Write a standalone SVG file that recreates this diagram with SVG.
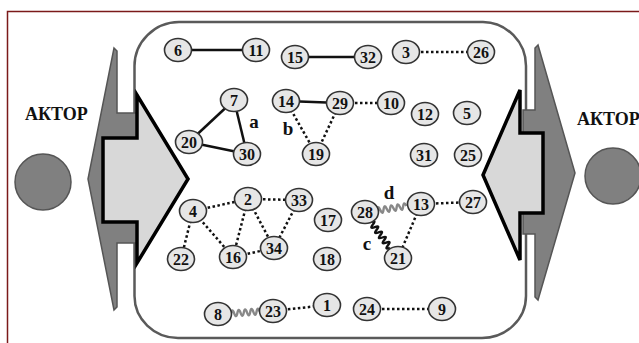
<svg xmlns="http://www.w3.org/2000/svg" width="639" height="343" viewBox="0 0 639 343">
  <style>
    .node ellipse { fill: #e6e6e6; stroke: #333; stroke-width: 1.6; }
    .node text { font-family: "Liberation Serif", "DejaVu Serif", "Times New Roman", serif; font-weight: bold; font-size: 16px; fill: #111; text-anchor: middle; }
    .solid { stroke: #111; stroke-width: 2.5; fill: none; }
    .dot { stroke: #111; stroke-width: 2.5; stroke-dasharray: 2.5 2.5; fill: none; }
    .wave-gray { stroke: #888; stroke-width: 2.4; fill: none; }
    .wave-black { stroke: #111; stroke-width: 2.4; fill: none; }
    .tag { font-family: "Liberation Serif", "DejaVu Serif", "Times New Roman", serif; font-weight: bold; font-size: 19px; fill: #111; text-anchor: middle; }
    .actor-label { font-family: "Liberation Serif", "DejaVu Serif", "Times New Roman", serif; font-weight: bold; font-size: 18px; fill: #111; }
    .actor { fill: #808080; stroke: #555; stroke-width: 1.5; }
    .spike { fill: #808080; stroke: #555; stroke-width: 1.5; stroke-linejoin: miter; }
    .flow { fill: #d8d8d8; stroke: #000; stroke-width: 3.5; stroke-linejoin: miter; }
  </style>

  <rect width="639" height="343" fill="#fff"/>
  <!-- page frame -->
  <path d="M7.5,343 V11.5 H639" fill="none" stroke="#7b1a1a" stroke-width="1.5"/>

  <!-- system boundary -->
  <path id="system" d="M179,22 H483 A44 44 0 0 1 526,66 V296 A44 42 0 0 1 482,338 H178 A44 42 0 0 1 134.5,296 V66 A45 44 0 0 1 179,22 Z" fill="none" stroke="#5a5a5a" stroke-width="2.5"/>

  <!-- left actor -->
  <g id="actor-left">
    <circle class="actor" cx="43" cy="182" r="28"/>
    <text class="actor-label" x="25" y="120">АКТОР</text>
    <polygon class="spike" points="114,48 117,51 117,113 137,113 137,243 117,243 117,307 114,310 88,179"/>
    <polygon class="flow" points="137,95 137,138 103,138 103,222 137,222 137,263 188,179"/>
  </g>

  <!-- right actor -->
  <g id="actor-right">
    <circle class="actor" cx="613" cy="176" r="28"/>
    <text class="actor-label" x="577" y="125">АКТОР</text>
    <polygon class="spike" points="538,45 535,48 535,110 523,110 523,234 535,234 535,297 538,300 575,173"/>
    <polygon class="flow" points="520,90 520,133 543,133 543,213 520,213 520,260 483,175"/>
  </g>

  <!-- connectors -->
  <g id="connectors">
    <line class="solid" x1="178" y1="50" x2="256" y2="50"/>
    <line class="solid" x1="295" y1="57" x2="368" y2="57"/>
    <line class="dot" x1="406" y1="52" x2="481" y2="52"/>
    <line class="solid" x1="234" y1="100" x2="189" y2="142"/>
    <line class="solid" x1="189" y1="142" x2="247" y2="154"/>
    <line class="solid" x1="234" y1="100" x2="247" y2="154"/>
    <line class="solid" x1="286" y1="101" x2="340" y2="103"/>
    <line class="dot" x1="340" y1="103" x2="391" y2="103"/>
    <line class="dot" x1="286" y1="101" x2="316" y2="154"/>
    <line class="dot" x1="340" y1="103" x2="316" y2="154"/>
    <line class="dot" x1="193" y1="211" x2="248" y2="199"/>
    <line class="dot" x1="248" y1="199" x2="299" y2="200"/>
    <line class="dot" x1="193" y1="211" x2="181" y2="259"/>
    <line class="dot" x1="193" y1="211" x2="233" y2="257"/>
    <line class="dot" x1="248" y1="199" x2="233" y2="257"/>
    <line class="dot" x1="248" y1="199" x2="274" y2="248"/>
    <line class="dot" x1="299" y1="200" x2="274" y2="248"/>
    <line class="dot" x1="233" y1="257" x2="274" y2="248"/>
    <line class="dot" x1="421" y1="204" x2="473" y2="202"/>
    <line class="dot" x1="421" y1="204" x2="398" y2="258"/>
    <line class="dot" x1="273" y1="311" x2="327" y2="305"/>
    <line class="dot" x1="367" y1="309" x2="442" y2="309"/>
    <!-- wavy links -->
    <path class="wave-gray" transform="translate(231,313.5) rotate(-4)" d="M0,0 q1.6,-6 3.2,0 t3.2,0 t3.2,0 t3.2,0 t3.2,0 t3.2,0 t3.2,0 t3.2,0 t3.2,0"/>
    <path class="wave-gray" transform="translate(377,210.5) rotate(-8.5)" d="M0,0 q1.65,-6 3.3,0 t3.3,0 t3.3,0 t3.3,0 t3.3,0 t3.3,0 t3.3,0 t3.3,0 t3.3,0"/>
    <path class="wave-black" transform="translate(371,222) rotate(53.8)" d="M0,0 q1.6,-6 3.2,0 t3.2,0 t3.2,0 t3.2,0 t3.2,0 t3.2,0 t3.2,0 t3.2,0 t3.2,0 t3.2,0"/>
  </g>

  <!-- link tags -->
  <text class="tag" x="254" y="128">a</text>
  <text class="tag" x="288" y="135">b</text>
  <text class="tag" x="367" y="250">c</text>
  <text class="tag" x="389" y="199">d</text>

  <!-- nodes -->
  <g id="n6" class="node"><ellipse cx="178" cy="50" rx="13.5" ry="11.5"/><text x="178" y="55.5">6</text></g>
  <g id="n11" class="node"><ellipse cx="256" cy="50" rx="13.5" ry="11.5"/><text x="256" y="55.5">11</text></g>
  <g id="n15" class="node"><ellipse cx="295" cy="57" rx="13.5" ry="11.5"/><text x="295" y="62.5">15</text></g>
  <g id="n32" class="node"><ellipse cx="368" cy="57" rx="13.5" ry="11.5"/><text x="368" y="62.5">32</text></g>
  <g id="n3" class="node"><ellipse cx="406" cy="52" rx="13.5" ry="11.5"/><text x="406" y="57.5">3</text></g>
  <g id="n26" class="node"><ellipse cx="481" cy="52" rx="13.5" ry="11.5"/><text x="481" y="57.5">26</text></g>
  <g id="n7" class="node"><ellipse cx="234" cy="100" rx="13.5" ry="11.5"/><text x="234" y="105.5">7</text></g>
  <g id="n20" class="node"><ellipse cx="189" cy="142" rx="13.5" ry="11.5"/><text x="189" y="147.5">20</text></g>
  <g id="n30" class="node"><ellipse cx="247" cy="154" rx="13.5" ry="11.5"/><text x="247" y="159.5">30</text></g>
  <g id="n14" class="node"><ellipse cx="286" cy="101" rx="13.5" ry="11.5"/><text x="286" y="106.5">14</text></g>
  <g id="n29" class="node"><ellipse cx="340" cy="103" rx="13.5" ry="11.5"/><text x="340" y="108.5">29</text></g>
  <g id="n10" class="node"><ellipse cx="391" cy="103" rx="13.5" ry="11.5"/><text x="391" y="108.5">10</text></g>
  <g id="n19" class="node"><ellipse cx="316" cy="154" rx="13.5" ry="11.5"/><text x="316" y="159.5">19</text></g>
  <g id="n12" class="node"><ellipse cx="425" cy="114" rx="13.5" ry="11.5"/><text x="425" y="119.5">12</text></g>
  <g id="n5" class="node"><ellipse cx="467" cy="113" rx="13.5" ry="11.5"/><text x="467" y="118.5">5</text></g>
  <g id="n31" class="node"><ellipse cx="424" cy="155" rx="13.5" ry="11.5"/><text x="424" y="160.5">31</text></g>
  <g id="n25" class="node"><ellipse cx="468" cy="155" rx="13.5" ry="11.5"/><text x="468" y="160.5">25</text></g>
  <g id="n4" class="node"><ellipse cx="193" cy="211" rx="13.5" ry="11.5"/><text x="193" y="216.5">4</text></g>
  <g id="n2" class="node"><ellipse cx="248" cy="199" rx="13.5" ry="11.5"/><text x="248" y="204.5">2</text></g>
  <g id="n33" class="node"><ellipse cx="299" cy="200" rx="13.5" ry="11.5"/><text x="299" y="205.5">33</text></g>
  <g id="n22" class="node"><ellipse cx="181" cy="259" rx="13.5" ry="11.5"/><text x="181" y="264.5">22</text></g>
  <g id="n16" class="node"><ellipse cx="233" cy="257" rx="13.5" ry="11.5"/><text x="233" y="262.5">16</text></g>
  <g id="n34" class="node"><ellipse cx="274" cy="248" rx="13.5" ry="11.5"/><text x="274" y="253.5">34</text></g>
  <g id="n17" class="node"><ellipse cx="328" cy="220" rx="13.5" ry="11.5"/><text x="328" y="225.5">17</text></g>
  <g id="n18" class="node"><ellipse cx="327" cy="259" rx="13.5" ry="11.5"/><text x="327" y="264.5">18</text></g>
  <g id="n28" class="node"><ellipse cx="365" cy="212" rx="13.5" ry="11.5"/><text x="365" y="217.5">28</text></g>
  <g id="n13" class="node"><ellipse cx="421" cy="204" rx="13.5" ry="11.5"/><text x="421" y="209.5">13</text></g>
  <g id="n27" class="node"><ellipse cx="473" cy="202" rx="13.5" ry="11.5"/><text x="473" y="207.5">27</text></g>
  <g id="n21" class="node"><ellipse cx="398" cy="258" rx="13.5" ry="11.5"/><text x="398" y="263.5">21</text></g>
  <g id="n8" class="node"><ellipse cx="218" cy="314" rx="13.5" ry="11.5"/><text x="218" y="319.5">8</text></g>
  <g id="n23" class="node"><ellipse cx="273" cy="311" rx="13.5" ry="11.5"/><text x="273" y="316.5">23</text></g>
  <g id="n1" class="node"><ellipse cx="327" cy="305" rx="13.5" ry="11.5"/><text x="327" y="310.5">1</text></g>
  <g id="n24" class="node"><ellipse cx="367" cy="309" rx="13.5" ry="11.5"/><text x="367" y="314.5">24</text></g>
  <g id="n9" class="node"><ellipse cx="442" cy="309" rx="13.5" ry="11.5"/><text x="442" y="314.5">9</text></g>
</svg>
